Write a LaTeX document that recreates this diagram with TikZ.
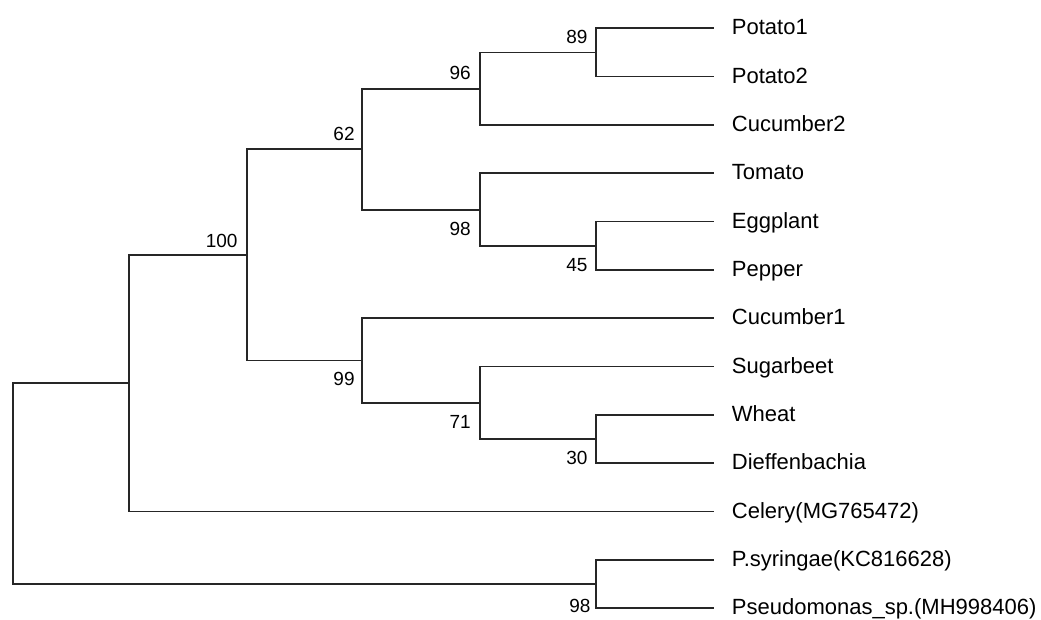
\documentclass[tikz,border=0pt]{standalone}
\usepackage{fontspec}
\setmainfont{Liberation Sans}
\usepackage{tikz}
\usetikzlibrary{positioning}
\colorlet{branch}{black!85}
\tikzset{
  % leaf names: the west anchor sits on the branch tip
  leaf/.style={anchor=west, inner xsep=17.7pt, inner ysep=0pt, text height=16pt, text depth=3pt, font={\fontsize{22}{26}\selectfont}},
  % bootstrap values next to the inner nodes
  boot/.style={inner sep=0pt, text height=13.5pt, text depth=0pt, font={\fontsize{19}{22}\selectfont}},
  % -------------------------------------------------
  % branch lines
  br/.style={draw, branch, line width=1.7pt},
}

\begin{document}
\begin{tikzpicture}[%
    x=1pt, y=-1pt,        % work in pixels, top-down
    ]
\useasboundingbox (0,0) rectangle (1041,619);

% -------------------------------------------------
% Leaves
\node [leaf] (potato1)  at (714, 28.3) {Potato1};
\node [leaf] (potato2)  at (714, 76.6) {Potato2};
\node [leaf] (cucumber2) at (714,125.0) {Cucumber2};
\node [leaf] (tomato)   at (714,173.3) {Tomato};
\node [leaf] (eggplant) at (714,221.6) {Eggplant};
\node [leaf] (pepper)   at (714,270.0) {Pepper};
\node [leaf] (cucumber1) at (714,318.3) {Cucumber1};
\node [leaf] (sugarbeet) at (714,366.6) {Sugarbeet};
\node [leaf] (wheat)    at (714,415.0) {Wheat};
\node [leaf] (dieff)    at (714,463.3) {Dieffenbachia};
\node [leaf] (celery)   at (714,511.6) {Celery(MG765472)};
\node [leaf] (psyr)     at (714,560.0) {P.syringae(KC816628)};
\node [leaf] (pseudo)   at (714,608.3) {Pseudomonas\_sp.(MH998406)};

% -------------------------------------------------
% Inner nodes
\coordinate (n89)  at (595.7, 52.5);
\coordinate (n96)  at (480.0, 88.8);
\coordinate (n45)  at (595.7,246.0);
\coordinate (n98a) at (480.0,209.8);
\coordinate (n62)  at (362.3,149.3);
\coordinate (n30)  at (595.7,439.2);
\coordinate (n71)  at (480.0,402.9);
\coordinate (n99)  at (362.3,360.6);
\coordinate (n100) at (246.7,255.0);
\coordinate (n0)   at (129.0,383.3);
\coordinate (n98b) at (595.7,584.2);
\coordinate (root) at ( 13.0,483.8);

% -------------------------------------------------
% Branches
\draw [br] (n89) |- (potato1.west);
\draw [br] (n89) |- (potato2.west);
\draw [br] (n96) |- (n89);
\draw [br] (n96) |- (cucumber2.west);
\draw [br] (n45) |- (eggplant.west);
\draw [br] (n45) |- (pepper.west);
\draw [br] (n98a) |- (tomato.west);
\draw [br] (n98a) |- (n45);
\draw [br] (n62) |- (n96);
\draw [br] (n62) |- (n98a);
\draw [br] (n30) |- (wheat.west);
\draw [br] (n30) |- (dieff.west);
\draw [br] (n71) |- (sugarbeet.west);
\draw [br] (n71) |- (n30);
\draw [br] (n99) |- (cucumber1.west);
\draw [br] (n99) |- (n71);
\draw [br] (n100) |- (n62);
\draw [br] (n100) |- (n99);
\draw [br] (n0) |- (n100);
\draw [br] (n0) |- (celery.west);
\draw [br] (n98b) |- (psyr.west);
\draw [br] (n98b) |- (pseudo.west);
\draw [br] (root) |- (n0);
\draw [br] (root) |- (n98b);

% bootstrap values
\node [boot, above left=9pt and 8pt of n89] (b89) {89};
\node [boot, above left=9pt and 9pt of n96] (b96) {96};
\node [boot, above left=9pt and 7.5pt of n62] (b62) {62};
\node [boot, above left=7pt and 9pt of n100] (b100) {100};
\node [boot, below left=11.5pt and 9pt of n98a] (b98a) {98};
\node [boot, below left=11.5pt and 8pt of n45] (b45) {45};
\node [boot, below left=11.5pt and 7.5pt of n99] (b99) {99};
\node [boot, below left=12pt and 9pt of n71] (b71) {71};
\node [boot, below left=12pt and 8pt of n30] (b30) {30};
\node [boot, below left=15pt and 5pt of n98b] (b98b) {98};

\end{tikzpicture}
\end{document}
